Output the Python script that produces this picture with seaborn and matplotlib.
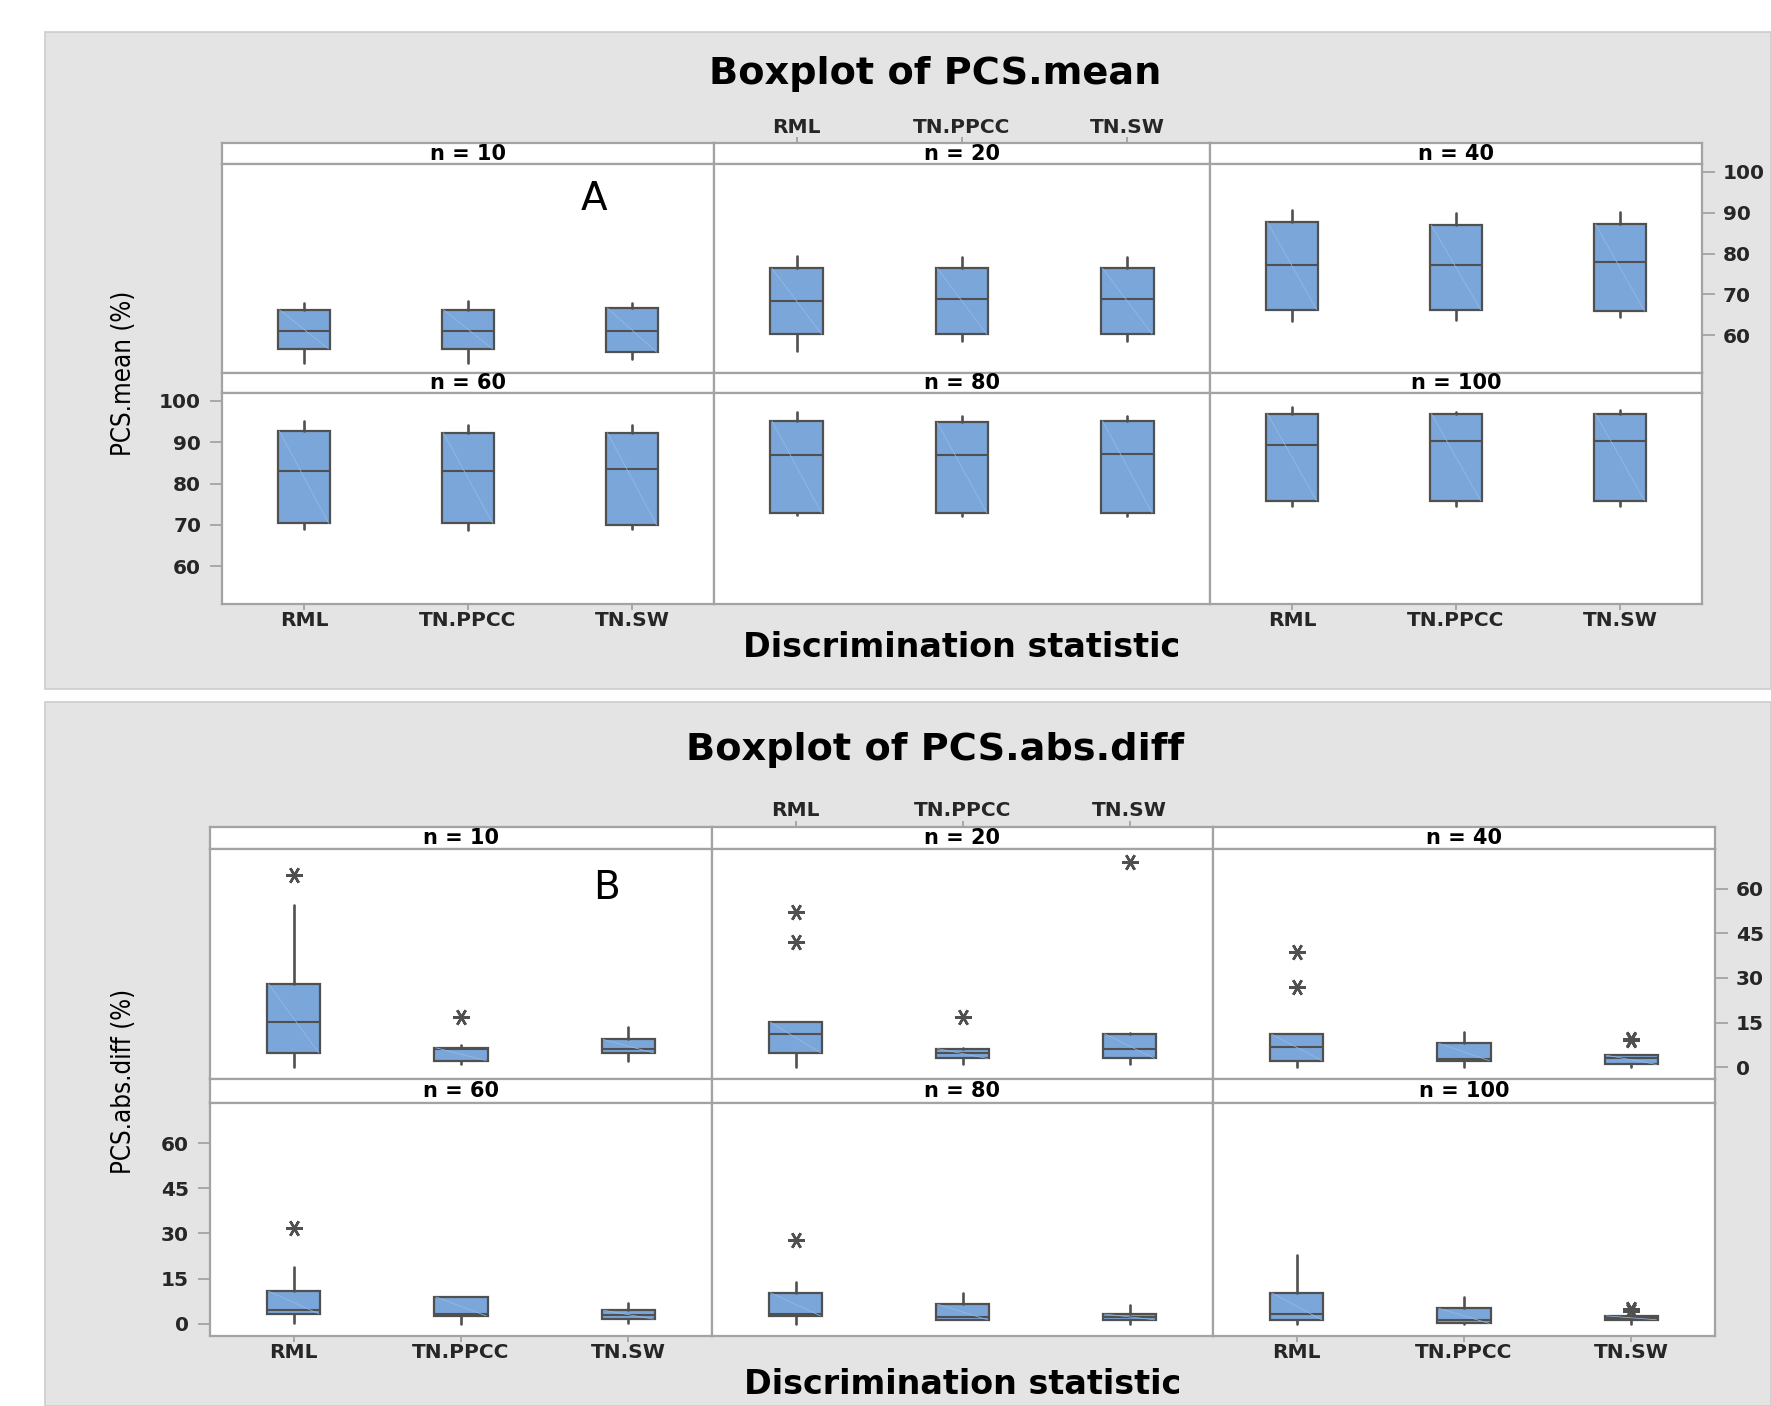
import matplotlib
matplotlib.use("Agg")
import matplotlib.pyplot as plt
from matplotlib.patches import Rectangle
import seaborn as sns

# ---------------------------------------------------------------- data
methods = ["RML", "TN.PPCC", "TN.SW"]
sample_sizes = [10, 20, 40, 60, 80, 100]

# PCS.mean (%) : rows follow sample_sizes, columns follow methods
mean_low = [[53.3, 53.3, 54.2], [56.1, 58.6, 58.6], [63.4, 63.8, 64.6],
            [69.1, 68.7, 69.1], [72.5, 72.1, 72.1], [74.6, 74.6, 74.6]]
mean_q1 = [[56.7, 56.7, 55.9], [60.3, 60.3, 60.3], [66.3, 66.3, 65.9],
           [70.4, 70.4, 70.0], [72.9, 72.9, 72.9], [75.9, 75.9, 75.9]]
mean_med = [[61.2, 61.2, 61.2], [68.5, 69.0, 69.0], [77.3, 77.3, 78.0],
            [83.0, 83.0, 83.5], [86.8, 86.8, 87.2], [89.4, 90.2, 90.2]]
mean_q3 = [[66.3, 66.3, 66.7], [76.4, 76.4, 76.4], [87.7, 86.9, 87.2],
           [92.7, 92.3, 92.3], [95.2, 94.8, 95.2], [96.9, 96.9, 96.9]]
mean_high = [[67.9, 68.4, 67.9], [79.4, 79.2, 79.2], [90.7, 89.8, 90.2],
             [95.1, 94.2, 94.2], [97.3, 96.3, 96.3], [98.6, 97.2, 97.7]]
mean_out = [[[], [], []] for _ in sample_sizes]

# PCS.abs.diff (%)
abs_low = [[0.0, 1.1, 2.2], [0.0, 1.1, 1.1], [0.0, 0.0, 0.0],
           [0.1, 0.0, 0.3], [0.0, 1.3, 0.0], [0.0, 0.0, 0.0]]
abs_q1 = [[4.8, 2.2, 4.8], [4.8, 2.9, 2.9], [2.2, 2.2, 0.9],
          [3.3, 2.6, 1.5], [2.6, 1.3, 1.3], [1.3, 0.1, 1.3]]
abs_med = [[15.2, 6.0, 6.2], [11.2, 4.8, 6.2], [6.7, 2.8, 3.1],
           [4.7, 3.1, 2.8], [3.3, 2.2, 2.2], [3.3, 1.3, 2.0]]
abs_q3 = [[28.0, 6.5, 9.3], [15.1, 6.2, 11.2], [11.1, 8.0, 4.0],
          [10.8, 8.9, 4.5], [10.3, 6.5, 3.2], [10.3, 5.1, 2.6]]
abs_high = [[54.5, 7.6, 13.6], [15.1, 6.5, 11.5], [11.1, 11.9, 4.0],
            [19.0, 8.9, 6.8], [13.9, 10.2, 6.3], [23.0, 8.9, 2.6]]
abs_out = [[[64.8], [16.9], []],
           [[52.2, 42.0], [16.9], [69.0]],
           [[38.6, 27.1], [], [9.0, 9.6]],
           [[31.9], [], []],
           [[27.9], [], []],
           [[], [], [4.3, 4.8]]]

mean_ticks = [60, 70, 80, 90, 100]
abs_ticks = [0, 15, 30, 45, 60]

# ---------------------------------------------------------------- style
sns.set_theme(style="white")
plt.rcParams["font.family"] = ["DejaVu Sans"]

W, H = 1771, 1406
fig = plt.figure(figsize=(W / 100, H / 100), dpi=100)
fig.patch.set_facecolor("white")

BOX_FILL = "#7BA6DA"
DIAG = "#98BCE6"
EDGE = "#505050"
FRAME = "#A3A3A3"
PANEL_BG = "#E4E4E4"
TICK_FS = 14.5


def px_axes(x0, y0, x1, y1):
    return fig.add_axes([x0 / W, 1 - y1 / H, (x1 - x0) / W, (y1 - y0) / H])


def frame(ax):
    ax.set_facecolor("white")
    for s in ax.spines.values():
        s.set_visible(True)
        s.set_color(FRAME)
        s.set_linewidth(1.6)


def draw_chart(spec):
    bx0, by0, bx1, by1 = spec["bg"]
    fig.patches.append(Rectangle((bx0 / W, 1 - by1 / H), (bx1 - bx0) / W, (by1 - by0) / H,
                                 transform=fig.transFigure, facecolor=PANEL_BG,
                                 edgecolor="#CDCDCD", linewidth=1.2, zorder=-5))
    fig.text(spec["title_xy"][0] / W, 1 - spec["title_xy"][1] / H, spec["title"],
             ha="center", va="center", fontsize=27.5, fontweight="bold", color="black")

    cols = spec["cols"]
    for k, n in enumerate(sample_sizes):
        r, c = divmod(k, 3)
        x0, x1 = cols[c], cols[c + 1]
        sy0, sy1 = spec["strips"][r]
        py0, py1 = spec["plots"][r]

        # strip with the sample size
        sax = px_axes(x0, sy0, x1, sy1)
        frame(sax)
        sax.set_xlim(-0.5, 2.5)
        sax.set_ylim(0, 1)
        sax.set_yticks([])
        sax.text(1, 0.5, f"n = {n}", ha="center", va="center",
                 fontsize=15, fontweight="bold", color="black")
        if r == 0 and c == 1:
            sax.set_xticks(range(3))
            sax.set_xticklabels(methods, fontweight="bold")
            sax.tick_params(axis="x", bottom=False, labelbottom=False, top=True,
                            labeltop=True, length=4, width=1.3, color=FRAME,
                            labelsize=TICK_FS, pad=0.5)
        else:
            sax.set_xticks([])

        # box plot panel
        ax = px_axes(x0, py0, x1, py1)
        frame(ax)
        stats = []
        for j, m in enumerate(methods):
            stats.append(dict(label=m,
                              whislo=spec["low"][k][j], q1=spec["q1"][k][j],
                              med=spec["med"][k][j], q3=spec["q3"][k][j],
                              whishi=spec["high"][k][j], fliers=spec["out"][k][j]))
        width = 0.32
        ax.bxp(stats, positions=range(3), widths=width, patch_artist=True,
               showcaps=False, showfliers=True,
               boxprops=dict(facecolor=BOX_FILL, edgecolor=EDGE, linewidth=1.6),
               medianprops=dict(color=EDGE, linewidth=1.5),
               whiskerprops=dict(color=EDGE, linewidth=1.9),
               flierprops=dict(marker=(6, 2, 90), markersize=12,
                               markeredgecolor=EDGE, markeredgewidth=1.8,
                               linestyle="none"))
        # faint shading diagonal across each box
        for j, st in enumerate(stats):
            ax.plot([j - width / 2 + 0.01, j + width / 2 - 0.01], [st["q3"], st["q1"]],
                    color=DIAG, linewidth=0.5, zorder=2.5)
        ax.set_xlim(-0.5, 2.5)
        ax.set_ylim(*spec["ylim"])
        ax.set_yticks(spec["yticks"])
        ax.set_yticklabels([str(t) for t in spec["yticks"]], fontweight="bold")
        ax.set_xticks(range(3))
        ax.set_xticklabels(methods, fontweight="bold")
        show_bottom = (r == 1 and c in (0, 2))
        ax.tick_params(axis="x", top=False, labeltop=False, bottom=show_bottom,
                       labelbottom=show_bottom, length=4, width=1.3, color=FRAME,
                       labelsize=TICK_FS, pad=1)
        show_left = (r == 1 and c == 0)
        show_right = (r == 0 and c == 2)
        ax.tick_params(axis="y", left=show_left, labelleft=show_left,
                       right=show_right, labelright=show_right, length=9,
                       width=1.3, color=FRAME, labelsize=TICK_FS, pad=6)
        ax.set_xlabel("")
        ax.set_ylabel("")
        if k == 0:
            ax.text(spec["letter_xy"][0], spec["letter_xy"][1], spec["letter"],
                    transform=ax.transAxes, ha="center", va="center",
                    fontsize=28, color="black")

    fig.text(((cols[0] + cols[-1]) / 2) / W, 1 - spec["xlabel_y"] / H,
             "Discrimination statistic", ha="center", va="center",
             fontsize=24, fontweight="bold", color="black")
    fig.text(124 / W, 1 - spec["ylabel_y"] / H, spec["ylabel"], rotation=90,
             ha="center", va="center", fontsize=18.5, color="black",
             family="DejaVu Sans", fontstretch="condensed")


chart_mean = dict(
    bg=(45, 32, 1771, 689), title="Boxplot of PCS.mean", title_xy=(935, 74),
    cols=[222, 714, 1210, 1702],
    strips=[(143.4, 163.8), (372.7, 393.0)],
    plots=[(163.8, 372.7), (393.0, 604.0)],
    ylim=(50.9, 101.9), yticks=mean_ticks,
    low=mean_low, q1=mean_q1, med=mean_med, q3=mean_q3, high=mean_high, out=mean_out,
    letter="A", letter_xy=(0.757, 0.83), xlabel_y=648, ylabel="PCS.mean (%)", ylabel_y=373)

chart_abs = dict(
    bg=(45, 702.5, 1771, 1406), title="Boxplot of PCS.abs.diff", title_xy=(935, 750),
    cols=[210, 712, 1213, 1715],
    strips=[(826.7, 849.3), (1079.3, 1103.3)],
    plots=[(849.3, 1079.3), (1103.3, 1336.0)],
    ylim=(-4.1, 73.3), yticks=abs_ticks,
    low=abs_low, q1=abs_q1, med=abs_med, q3=abs_q3, high=abs_high, out=abs_out,
    letter="B", letter_xy=(0.79, 0.83), xlabel_y=1384, ylabel="PCS.abs.diff (%)", ylabel_y=1081)

draw_chart(chart_mean)
draw_chart(chart_abs)

fig.savefig("out.png", dpi=100, facecolor="white")
